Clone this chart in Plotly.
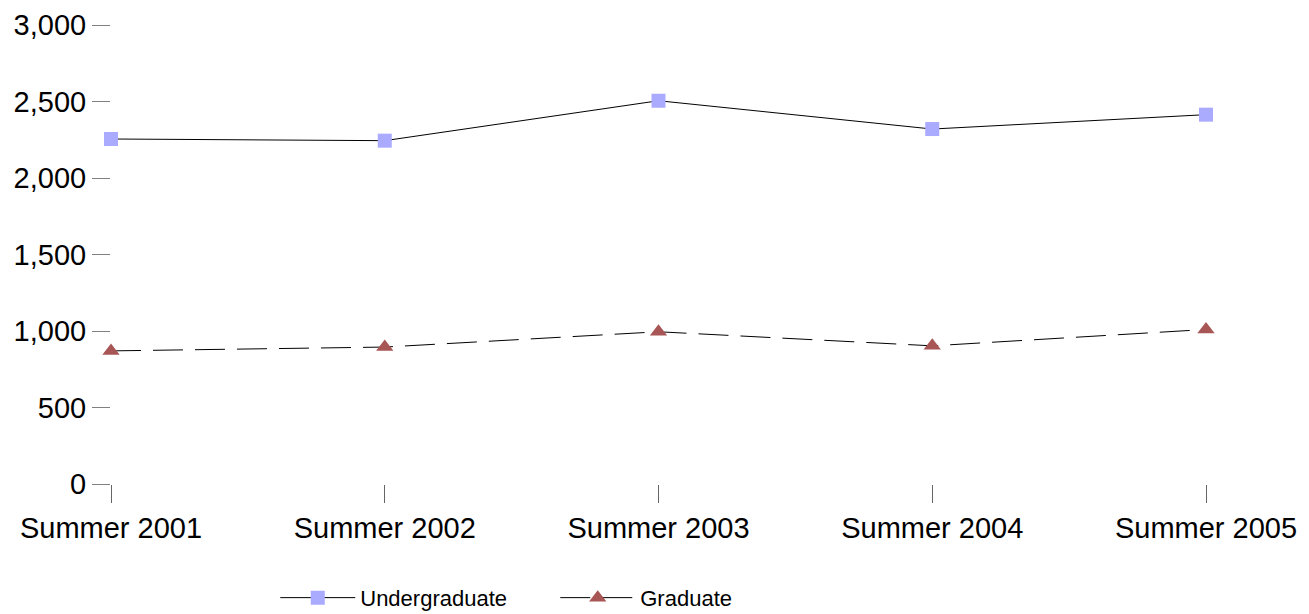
import plotly.graph_objects as go

categories = ["Summer 2001", "Summer 2002", "Summer 2003", "Summer 2004", "Summer 2005"]
undergraduate = [2255, 2244, 2505, 2320, 2414]
graduate = [870, 895, 995, 903, 1010]
y_ticks = [0, 500, 1000, 1500, 2000, 2500, 3000]
y_tick_labels = ["0", "500", "1,000", "1,500", "2,000", "2,500", "3,000"]

FONT = "Liberation Sans, Arial, sans-serif"

fig = go.Figure()
fig.add_trace(go.Scatter(
    x=categories, y=undergraduate, name="Undergraduate", mode="lines+markers",
    line=dict(color="black", width=1), cliponaxis=False,
    marker=dict(symbol="square", size=14, color="#aaaaff", line=dict(width=0)),
))
fig.add_trace(go.Scatter(
    x=categories, y=graduate, name="Graduate", mode="lines+markers",
    line=dict(color="black", width=1, dash="30px,12px"), cliponaxis=False,
    marker=dict(symbol="triangle-up", size=15, color="#a85555", line=dict(width=0)),
))

# page body has an 8px margin, so the figure is sized to fit the 1309x614 window
fig.update_layout(
    width=1301, height=606,
    margin=dict(l=103, r=103, t=17, b=130, autoexpand=False),
    paper_bgcolor="white", plot_bgcolor="white",
    font=dict(family=FONT, size=29, color="black"),
    showlegend=True,
    legend=dict(
        orientation="h", x=0.15, xanchor="left", y=-0.248, yanchor="middle",
        font=dict(family=FONT, size=22, color="black"),
        itemwidth=75, entrywidth=190, entrywidthmode="pixels", traceorder="normal",
    ),
    xaxis=dict(
        type="category", range=[0, 4], showgrid=False, zeroline=False, showline=False,
        ticks="outside", ticklen=18, tickcolor="#666666", tickwidth=1, automargin=False,
        tickfont=dict(family=FONT, size=29, color="black"),
    ),
    yaxis=dict(
        range=[0, 3000], tickvals=y_ticks, ticktext=y_tick_labels,
        showgrid=False, zeroline=False, showline=False, automargin=False,
        ticks="outside", ticklen=18, tickcolor="#808080", tickwidth=1,
        tickfont=dict(family=FONT, size=29, color="black"),
    ),
)

fig.write_html("out.html")
